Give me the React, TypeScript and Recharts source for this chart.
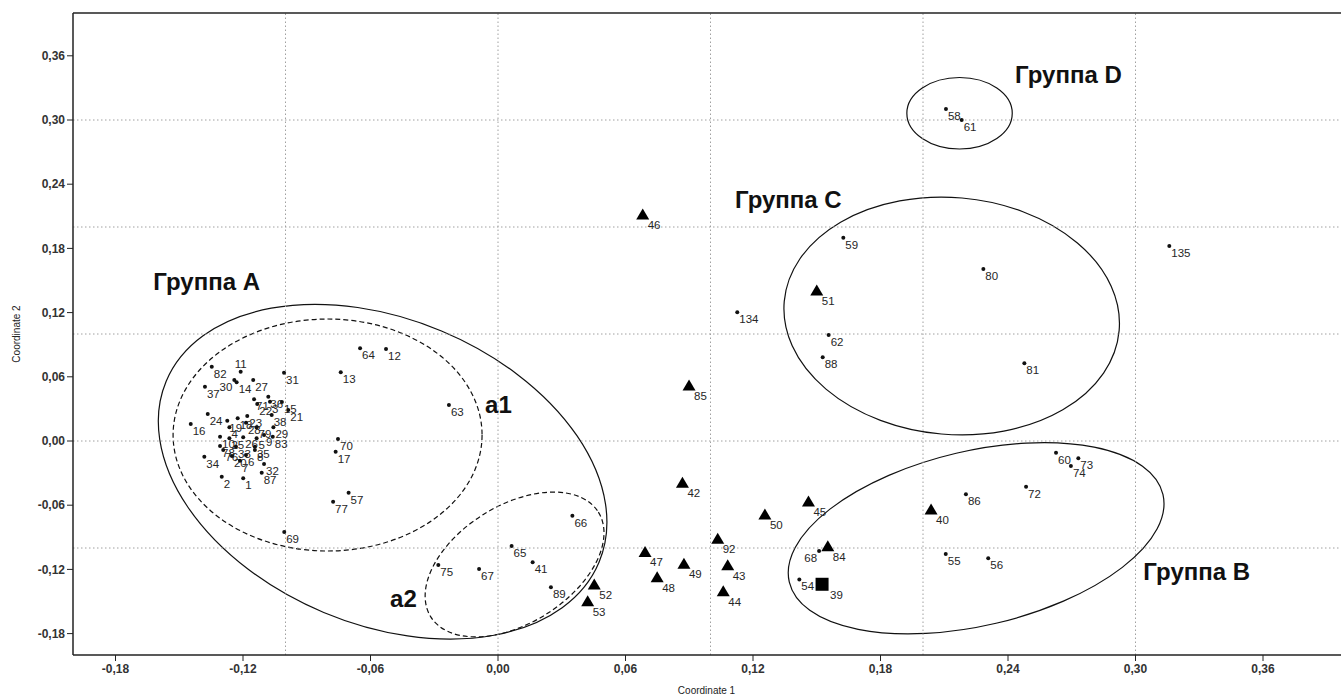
import React from 'react';
import {
  ScatterChart,
  Scatter,
  XAxis,
  YAxis,
  ReferenceLine,
  ReferenceArea,
  ReferenceDot,
} from 'recharts';

// [label, coordinate 1, coordinate 2]
const dotPoints: [string, number, number][] = [
  ['82', -0.1347, 0.0694], ['11', -0.1211, 0.0648], ['30', -0.1241, 0.057],
  ['14', -0.123, 0.0549], ['27', -0.1152, 0.057], ['31', -0.1007, 0.0638],
  ['37', -0.1379, 0.0507], ['36', -0.1081, 0.0414], ['71', -0.1148, 0.039],
  ['22', -0.1133, 0.0346], ['3', -0.1073, 0.0367], ['15', -0.1017, 0.0364],
  ['38', -0.1065, 0.0243], ['21', -0.0987, 0.029], ['24', -0.1366, 0.0252],
  ['19', -0.1274, 0.019], ['18', -0.1225, 0.0212], ['23', -0.118, 0.0234],
  ['28', -0.1186, 0.0171], ['79', -0.1136, 0.0128], ['29', -0.1057, 0.0128],
  ['16', -0.1446, 0.0159], ['4', -0.1264, 0.0128], ['10', -0.1308, 0.004],
  ['25', -0.1264, 0.0025], ['26', -0.1199, 0.0035], ['5', -0.1136, 0.0025],
  ['9', -0.1101, 0.0056], ['35', -0.1144, -0.0053], ['83', -0.106, 0.004],
  ['78', -0.1308, -0.0047], ['33', -0.1233, -0.0053], ['76', -0.1293, -0.0084],
  ['6', -0.1186, -0.0131], ['8', -0.1144, -0.0084], ['34', -0.1382, -0.0147],
  ['20', -0.1252, -0.014], ['7', -0.1214, -0.0184], ['32', -0.1101, -0.0215],
  ['87', -0.1112, -0.0296], ['2', -0.13, -0.0334], ['1', -0.1199, -0.0349],
  ['64', -0.0649, 0.0866], ['12', -0.0527, 0.086], ['13', -0.074, 0.0642],
  ['63', -0.0231, 0.0336], ['70', -0.0753, 0.0019], ['17', -0.0764, -0.01],
  ['57', -0.0703, -0.0483], ['77', -0.0776, -0.0567], ['69', -0.1006, -0.085],
  ['66', 0.035, -0.0698], ['65', 0.0064, -0.0981], ['75', -0.0281, -0.1159],
  ['67', -0.0089, -0.1196], ['41', 0.0163, -0.1134], ['89', 0.0249, -0.1367],
  ['68', 0.1511, -0.1028], ['54', 0.1418, -0.1294], ['55', 0.2107, -0.1056],
  ['56', 0.2307, -0.1096], ['86', 0.2202, -0.0498], ['72', 0.2485, -0.0427],
  ['60', 0.2626, -0.0109], ['73', 0.2731, -0.0162], ['74', 0.2696, -0.0234],
  ['134', 0.1126, 0.1203], ['59', 0.1625, 0.19], ['80', 0.2284, 0.1607],
  ['62', 0.1556, 0.0991], ['88', 0.1528, 0.0782], ['81', 0.2477, 0.0726],
  ['58', 0.2108, 0.3103], ['61', 0.2182, 0.3], ['135', 0.3159, 0.1822],
];

const trianglePoints: [string, number, number][] = [
  ['52', 0.0453, -0.1346], ['53', 0.0422, -0.1502], ['47', 0.0692, -0.1042],
  ['48', 0.0749, -0.1278], ['49', 0.0875, -0.1151], ['42', 0.0868, -0.0395],
  ['45', 0.1461, -0.057], ['50', 0.1256, -0.0692], ['92', 0.1034, -0.0919],
  ['84', 0.1552, -0.0988], ['43', 0.1081, -0.1165], ['44', 0.106, -0.1408],
  ['40', 0.2038, -0.0645], ['46', 0.0681, 0.2112], ['85', 0.0899, 0.0514],
  ['51', 0.15, 0.1402],
];

const squarePoints: [string, number, number][] = [['39', 0.1525, -0.1339]];

const xTicks = [-0.18, -0.12, -0.06, 0, 0.06, 0.12, 0.18, 0.24, 0.3, 0.36];
const yTicks = [-0.18, -0.12, -0.06, 0, 0.06, 0.12, 0.18, 0.24, 0.3, 0.36];
const gridX = [-0.1, 0, 0.1, 0.2, 0.3];
const gridY = [-0.1, 0, 0.1, 0.2, 0.3];

// centre, half-axes (in axis units), rotation in degrees
const ellipses = [
  { cx: -0.0543, cy: -0.0287, rx: 0.1104, ry: 0.1426, angle: 22.7, dashed: false },
  { cx: -0.0802, cy: 0.0056, rx: 0.0727, ry: 0.1084, angle: 0, dashed: true },
  { cx: 0.0078, cy: -0.1154, rx: 0.0465, ry: 0.0551, angle: -32, dashed: true },
  { cx: 0.225, cy: -0.0909, rx: 0.0903, ry: 0.0816, angle: -13.2, dashed: false },
  { cx: 0.2135, cy: 0.1168, rx: 0.0791, ry: 0.1107, angle: 5, dashed: false },
  { cx: 0.2172, cy: 0.3063, rx: 0.0248, ry: 0.0334, angle: 0, dashed: false },
];

const groupLabels = [
  { text: 'Группа A', x: -0.1622, y: 0.1411 },
  { text: 'Группа B', x: 0.3037, y: -0.1299 },
  { text: 'Группа C', x: 0.1115, y: 0.218 },
  { text: 'Группа D', x: 0.2433, y: 0.3343 },
  { text: 'a1', x: -0.0061, y: 0.0259 },
  { text: 'a2', x: -0.0508, y: -0.1549 },
];

const labelLeft = ['30', '68'];
const labelTop = ['11'];

const toRows = (pts: [string, number, number][]) =>
  pts.map(([id, x, y]) => ({ id, x, y }));

const FONT = '"Liberation Sans", Arial, sans-serif';
const fmt = (v: number) => v.toFixed(2).replace('.', ',');

const PointLabel = ({ cx, cy, id, dx, dy }: any) => {
  let anchor = 'start';
  let x = cx + dx;
  let y = cy + dy;
  if (labelLeft.includes(id)) {
    anchor = 'end';
    x = cx - 2;
  } else if (labelTop.includes(id)) {
    anchor = 'middle';
    x = cx;
    y = cy - 4;
  }
  return (
    <text x={x} y={y} textAnchor={anchor} fontSize={11.5} fill="#262626" fontFamily={FONT}>
      {id}
    </text>
  );
};

const renderDot = (p: any) => (
  <g>
    <circle cx={p.cx} cy={p.cy} r={2} fill="#111" />
    <PointLabel cx={p.cx} cy={p.cy} id={p.payload.id} dx={2} dy={11} />
  </g>
);

const renderTriangle = (p: any) => (
  <g>
    <path
      d={`M${p.cx},${p.cy - 6.5} L${p.cx + 6.5},${p.cy + 4.5} L${p.cx - 6.5},${p.cy + 4.5} Z`}
      fill="#000"
    />
    <PointLabel cx={p.cx} cy={p.cy} id={p.payload.id} dx={5} dy={14} />
  </g>
);

const renderSquare = (p: any) => (
  <g>
    <rect x={p.cx - 6.5} y={p.cy - 6.5} width={13} height={13} fill="#000" />
    <PointLabel cx={p.cx} cy={p.cy} id={p.payload.id} dx={8} dy={15} />
  </g>
);

const ellipseShape = (angle: number, dashed: boolean) => (p: any) => {
  const w = Math.abs(p.width);
  const h = Math.abs(p.height);
  const cx = Math.min(p.x, p.x + p.width) + w / 2;
  const cy = Math.min(p.y, p.y + p.height) + h / 2;
  return (
    <ellipse
      cx={cx}
      cy={cy}
      rx={w / 2}
      ry={h / 2}
      transform={`rotate(${angle} ${cx} ${cy})`}
      fill="none"
      stroke="#111"
      strokeWidth={1.2}
      strokeDasharray={dashed ? '5 3' : undefined}
    />
  );
};

const textShape = (text: string) => (p: any) => (
  <text x={p.cx} y={p.cy} fontSize={24} fontWeight="bold" fill="#111" fontFamily={FONT}>
    {text}
  </text>
);

const tickStyle = { fontSize: 12, fill: '#333', fontWeight: 'bold', fontFamily: FONT };

export default function App() {
  return (
    <div
      style={{
        position: 'absolute',
        left: 0,
        top: 0,
        width: 1341,
        height: 697,
        overflow: 'hidden',
        background: '#fff',
      }}
    >
      <ScatterChart width={1348} height={697} margin={{ top: 13, right: 0, bottom: 0, left: 0 }}>
        <XAxis
          type="number"
          dataKey="x"
          domain={[-0.2, 0.4]}
          allowDataOverflow
          ticks={xTicks}
          interval={0}
          tickFormatter={fmt}
          tickSize={6}
          tickMargin={3}
          height={42}
          axisLine={{ stroke: '#222', strokeWidth: 1.5 }}
          tickLine={{ stroke: '#222' }}
          tick={tickStyle}
          label={{
            value: 'Coordinate 1',
            position: 'insideBottom',
            offset: 3,
            dx: -4,
            style: { fontSize: 10, fill: '#222', fontFamily: FONT },
          }}
        />
        <YAxis
          type="number"
          dataKey="y"
          domain={[-0.2, 0.4]}
          allowDataOverflow
          ticks={yTicks}
          interval={0}
          tickFormatter={fmt}
          tickSize={6}
          tickMargin={2}
          width={73}
          axisLine={{ stroke: '#222', strokeWidth: 1.5 }}
          tickLine={{ stroke: '#222' }}
          tick={tickStyle}
          label={{
            value: 'Coordinate 2',
            angle: -90,
            position: 'insideLeft',
            offset: 16,
            style: { textAnchor: 'middle', fontSize: 10, fill: '#222', fontFamily: FONT },
          }}
        />
        {gridX.map((v) => (
          <ReferenceLine key={'gx' + v} x={v} stroke="#a0a0a0" strokeDasharray="1.5 2.5" />
        ))}
        {gridY.map((v) => (
          <ReferenceLine key={'gy' + v} y={v} stroke="#a0a0a0" strokeDasharray="1.5 2.5" />
        ))}
        <ReferenceLine y={0.4} stroke="#222" strokeWidth={1.5} ifOverflow="visible" />
        {ellipses.map((e, i) => (
          <ReferenceArea
            key={'el' + i}
            x1={e.cx - e.rx}
            x2={e.cx + e.rx}
            y1={e.cy - e.ry}
            y2={e.cy + e.ry}
            ifOverflow="visible"
            shape={ellipseShape(e.angle, e.dashed)}
          />
        ))}
        {groupLabels.map((g) => (
          <ReferenceDot
            key={g.text}
            x={g.x}
            y={g.y}
            r={0}
            ifOverflow="visible"
            shape={textShape(g.text)}
          />
        ))}
        <Scatter data={toRows(dotPoints)} shape={renderDot} isAnimationActive={false} />
        <Scatter data={toRows(trianglePoints)} shape={renderTriangle} isAnimationActive={false} />
        <Scatter data={toRows(squarePoints)} shape={renderSquare} isAnimationActive={false} />
      </ScatterChart>
    </div>
  );
}
